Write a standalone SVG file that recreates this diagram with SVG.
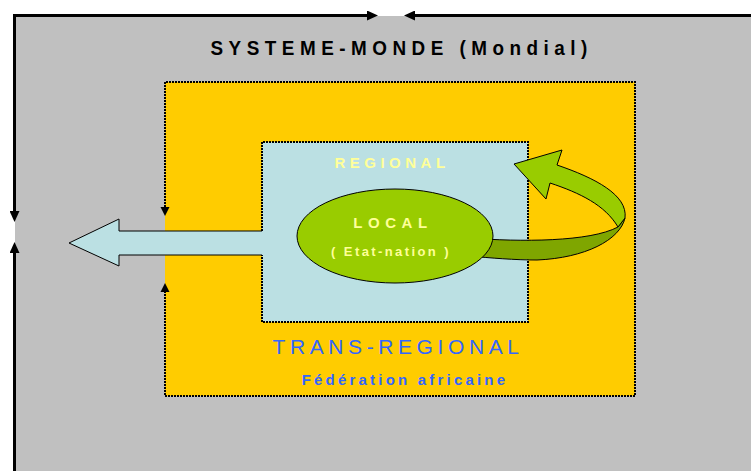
<svg xmlns="http://www.w3.org/2000/svg" width="751" height="471" viewBox="0 0 751 471">
<defs>
<style>
.frame{fill:none;stroke:#000;stroke-width:3}
.dot{fill:none;stroke:#000;stroke-width:2;stroke-dasharray:2 1}
.edge{stroke:#000;stroke-width:1;stroke-linejoin:miter}
.t{font-family:"Liberation Sans",Arial,sans-serif;text-anchor:middle}
</style>
<marker id="big" markerUnits="userSpaceOnUse" markerWidth="11" markerHeight="10" refX="0" refY="5" orient="auto-start-reverse"><path d="M0,0 L11,5 L0,10 z" fill="#000"/></marker>
<marker id="small" markerUnits="userSpaceOnUse" markerWidth="9" markerHeight="10" refX="0" refY="5" orient="auto-start-reverse"><path d="M0,0.5 L9,5 L0,9.5 z" fill="#000"/></marker>
</defs>
<rect width="751" height="471" fill="#fff"/>
<g id="systeme-monde">
<rect x="15" y="16" width="736" height="455" fill="#C0C0C0"/>
<path class="frame" d="M14.5,211 V15.5 H367" marker-start="url(#big)" marker-end="url(#big)"/>
<path class="frame" d="M415,15.5 H751" marker-start="url(#big)"/>
<path class="frame" d="M14.5,253 V471" marker-start="url(#big)"/>
<text class="t" transform="translate(399,55) scale(0.9,1)" x="3" y="0" font-size="21" font-weight="bold" letter-spacing="6.1" fill="#000">SYSTEME-MONDE (Mondial)</text>
</g>
<g id="trans-regional">
<rect x="165" y="82" width="470" height="314" fill="#FFCC00"/>
<path class="dot" d="M165,207 V82 H635 V396 H165 V292" marker-start="url(#small)" marker-end="url(#small)"/>
<text class="t" x="398" y="354" font-size="21" letter-spacing="4.6" fill="#3366FF">TRANS-REGIONAL</text>
<text class="t" x="405" y="385" font-size="15" font-weight="bold" letter-spacing="3.2" fill="#3366FF">Fédération africaine</text>
</g>
<g id="regional">
<rect x="262" y="142" width="266" height="180" fill="#BBE0E3"/>
<path class="dot" d="M262,231 V142 H528 V322 H262 V255"/>
<text class="t" x="392" y="168" font-size="15" font-weight="bold" letter-spacing="4.5" fill="#FFFF99">REGIONAL</text>
</g>
<g id="connectors">
<g id="arrow-out">
<polygon points="264,231 119,231 119,219 69,243 119,266 119,255 264,255" fill="#BBE0E3"/>
<polyline class="edge" fill="none" points="262,231 119,231 119,219 69,243 119,266 119,255 262,255"/>
</g>
<g id="arrow-loop">
<path class="edge" fill="#7FA600" d="M625,218 C620,240 585,258 537,260 C515,260 490,258 470,256 L470,238 C520,242 590,242 618,227 Z"/>
<path class="edge" fill="#99CC00" d="M514,164 L562,150 L557,165 C595,178 628,195 625,218 L618,227 C605,205 580,193 550,183 L546,199 Z"/>
</g>
</g>
<g id="local">
<ellipse cx="395" cy="236" rx="98" ry="47" fill="#99CC00" stroke="#000" stroke-width="1"/>
<text class="t" x="393" y="228" font-size="15" font-weight="bold" letter-spacing="5.6" fill="#FFFF99">LOCAL</text>
<text class="t" x="391" y="256" font-size="13" font-weight="bold" letter-spacing="2.4" fill="#FFFF99">( Etat-nation )</text>
</g>
</svg>
